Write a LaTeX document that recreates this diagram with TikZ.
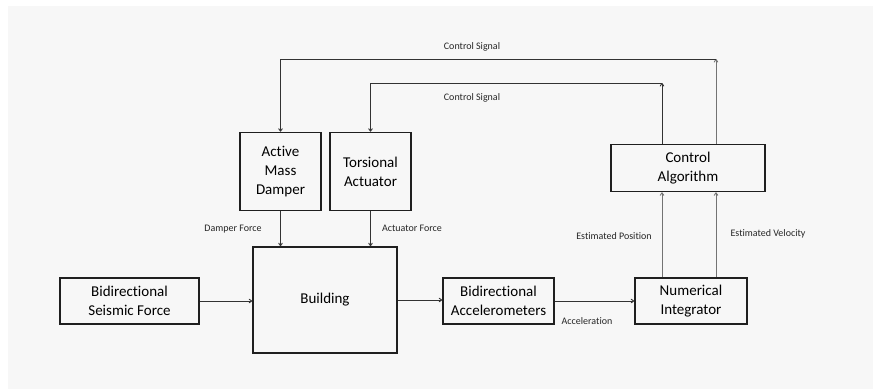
\documentclass[tikz,border=0pt]{standalone}
\usepackage{fontspec}
\setmainfont{Carlito}[Ligatures={NoCommon,NoRare}]
\usetikzlibrary{arrows.meta}
\begin{document}
\begin{tikzpicture}[x=1pt,y=-1pt,
  block/.style={draw=black!88,line width=1.6pt,fill=none,align=center,
    inner sep=2pt,font=\fontsize{15}{19}\selectfont},
  wire/.style={draw=black!80,line width=0.9pt},
  arr/.style={wire,-{To[length=3.5pt,width=4.5pt]}},
  grayarr/.style={arr,draw=black!55},
  lab/.style={font=\fontsize{10}{12}\selectfont,text=black!85,inner sep=0pt}]
  % canvas
  \useasboundingbox (0,0) rectangle (873,389);
  \fill[white] (0,0) rectangle (873,389);
  \fill[black!3] (8,6) rectangle (873,389);

  % blocks
  \node[block,minimum width=139pt,minimum height=46pt] (seis) at (129.5,301) {Bidirectional\\Seismic Force};
  \node[block,minimum width=144pt,minimum height=106pt] (bldg) at (325,300) {Building};
  \node[block,minimum width=111pt,minimum height=46pt] (acc) at (498.5,301) {Bidirectional\\Accelerometers};
  \node[block,minimum width=112pt,minimum height=46pt] (int) at (691,301) {Numerical\\Integrator};
  \node[block,minimum width=154pt,minimum height=47pt] (ctrl) at (688,168) {Control\\Algorithm};
  \node[block,minimum width=81pt,minimum height=78pt] (amd) at (280.5,171.5) {Active\\Mass\\Damper};
  \node[block,minimum width=81pt,minimum height=78pt] (tor) at (370.5,171.5) {Torsional\\Actuator};

  % corner points of the feedback loops
  \coordinate (vR) at (716,59);
  \coordinate (vL) at (662,83);
  \coordinate (hA) at (amd.north |- vR);
  \coordinate (hT) at (tor.north |- vL);

  % forward path
  \draw[arr] (seis.east) -- (seis.east -| bldg.west);
  \draw[arr] (bldg.east) -- (bldg.east -| acc.west);
  \draw[arr] (acc.east) -- (int.west);
  \draw[arr] (amd.south) -- (amd.south |- bldg.north);
  \draw[arr] (tor.south) -- (tor.south |- bldg.north);

  % estimated states
  \draw[grayarr] (int.north -| vL) -- (ctrl.south -| vL);
  \draw[grayarr] (int.north -| vR) -- (ctrl.south -| vR);

  % control signals
  \draw[grayarr] (ctrl.north -| vR) -- (vR);
  \draw[arr] (vR) -- (hA) -- (amd.north);
  \draw[arr] (ctrl.north -| vL) -- (vL);
  \draw[arr] (vL) -- (hT) -- (tor.north);

  % labels
  \node[lab] (l1) at (472,47) {Control Signal};
  \node[lab] (l2) at (472,98) {Control Signal};
  \node[lab] (l3) at (233,229) {Damper Force};
  \node[lab] (l4) at (412,228) {Actuator Force};
  \node[lab] (l5) at (614,236) {Estimated Position};
  \node[lab] (l6) at (768,234) {Estimated Velocity};
  \node[lab] (l7) at (587,321) {Acceleration};
\end{tikzpicture}
\end{document}
